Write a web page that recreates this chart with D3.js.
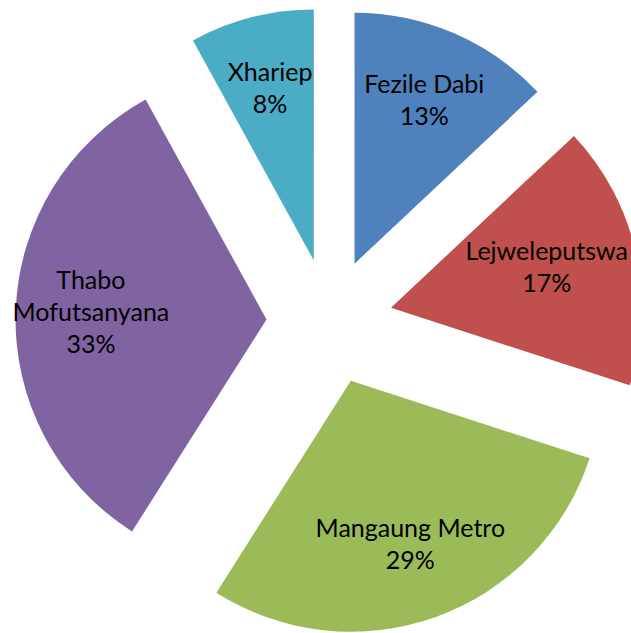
<!DOCTYPE html>
<html>
<head>
<meta charset="utf-8">
<script src="https://cdn.jsdelivr.net/npm/d3@7"></script>
<style>
  html, body { margin: 0; padding: 0; background: #ffffff; }
  svg { display: block; }
</style>
</head>
<body>
<svg id="chart" width="631" height="633"></svg>
<script>
const categories = ["Fezile Dabi", "Lejweleputswa", "Mangaung Metro", "Thabo Mofutsanyana", "Xhariep"];
const values = [13, 17, 29, 33, 8];
const colors = ["#4F81BD", "#C0504D", "#9BBB59", "#8064A2", "#4BACC6"];

const W = 631, H = 633;
const cx = 329.5, cy = 321.5;
const radius = 251;
const explode = 63;
const labelFrac = 0.70;
const fontSize = 25;
const lineH = 32;
const wrapWidth = 210;

const svg = d3.select("#chart");
const total = d3.sum(values);
const pie = d3.pie().sort(null).value(d => d).startAngle(0).endAngle(2 * Math.PI);
const arcs = pie(values);
const arc = d3.arc().innerRadius(0).outerRadius(radius);

const g = svg.append("g").attr("transform", `translate(${cx},${cy})`);

const slices = g.selectAll("g.slice")
  .data(arcs)
  .join("g")
  .attr("class", "slice")
  .attr("transform", d => {
    const m = (d.startAngle + d.endAngle) / 2;
    return `translate(${explode * Math.sin(m)},${-explode * Math.cos(m)})`;
  });

slices.append("path")
  .attr("d", arc)
  .attr("fill", (d, i) => colors[i]);

// Labels
const measure = svg.append("text")
  .attr("font-family", "Lato, 'Open Sans', sans-serif")
  .attr("font-size", fontSize)
  .attr("visibility", "hidden");
function textW(s) { measure.text(s); return measure.node().getComputedTextLength(); }

arcs.forEach((d, i) => {
  const m = (d.startAngle + d.endAngle) / 2;
  const dist = explode + labelFrac * radius;
  let x = cx + dist * Math.sin(m);
  let y = cy - dist * Math.cos(m);
  const name = categories[i];
  let lines;
  if (textW(name) > wrapWidth) {
    lines = name.split(" ");
  } else {
    lines = [name];
  }
  lines.push(Math.round(values[i] / total * 100) + "%");
  const maxW = d3.max(lines, textW);
  // keep label inside the drawing area
  x = Math.min(x, W - 3 - maxW / 2);
  x = Math.max(x, 3 + maxW / 2);
  const top = y - (lines.length * lineH) / 2;
  const t = svg.append("text")
    .attr("font-family", "Lato, 'Open Sans', sans-serif")
    .attr("font-size", fontSize)
    .attr("fill", "#000000")
    .attr("text-anchor", "middle");
  lines.forEach((ln, k) => {
    t.append("tspan")
      .attr("x", x)
      .attr("y", top + k * lineH + lineH * 0.72)
      .text(ln);
  });
});
measure.remove();
</script>
</body>
</html>
